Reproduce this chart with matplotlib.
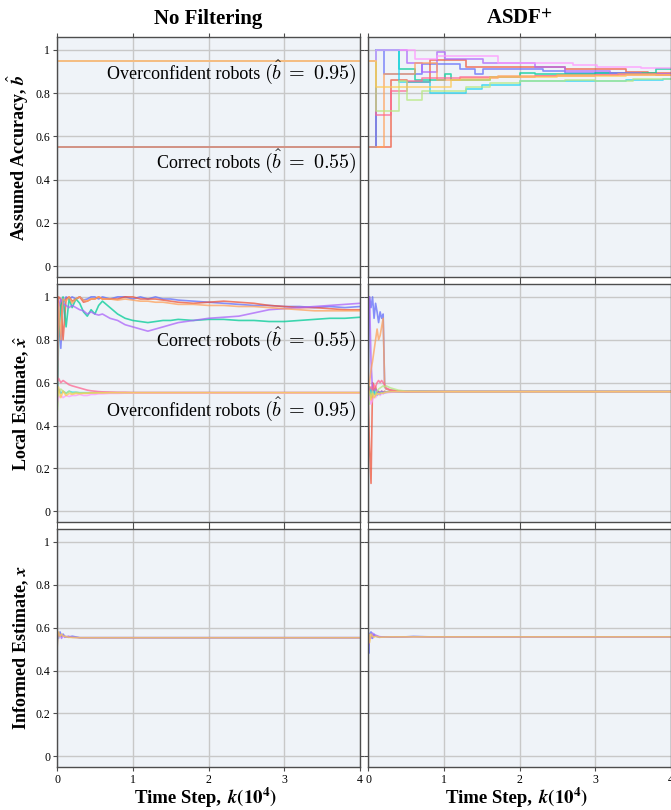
import numpy as np
import matplotlib.pyplot as plt

plt.rcParams['font.family'] = ['Liberation Serif', 'DejaVu Serif']
plt.rcParams['mathtext.fontset'] = 'cm'

colors = ['#636EFA', '#EF553B', '#00CC96', '#AB63FA', '#FFA15A',
          '#19D3F3', '#FF6692', '#B6E880', '#FF97FF', '#FECB52']

## time in units of 10^4 steps
# no filtering: assumed accuracy stays at its initial value
b_init = [0.55, 0.55, 0.55, 0.55, 0.55, 0.95, 0.95, 0.95, 0.95, 0.95]

# ASDF+: assumed accuracy, step changes (x, b_hat)
asdf_b_x = [
    [0, 0.11, 0.21, 0.71, 1.21, 1.41, 1.52, 2.31, 2.6, 3.4, 3.8],
    [0, 0.31, 0.51, 0.82, 1.30, 2.6, 3.4, 3.7],
    [0, 0.11, 0.41, 0.62, 1.02, 1.1, 1.61, 2.01, 2.2, 3.0, 3.8],
    [0, 0.11, 0.51, 0.71, 0.91, 1.02, 1.52, 2.2, 2.6, 3.2, 3.6],
    [0, 0.21, 0.62, 0.91, 1.21, 1.72, 2.5, 3.3, 3.8],
    [0, 0.11, 0.41, 0.82, 1.30, 1.5, 2.01, 3.0, 3.4, 3.9],
    [0, 0.11, 0.31, 0.51, 0.71, 1.21, 2.2, 3.0],
    [0, 0.11, 0.41, 0.51, 0.71, 1.30, 1.61, 2.0, 2.6, 3.0, 3.5],
    [0, 0.11, 0.62, 0.91, 1.72, 2.71, 3.02, 3.6],
    [0, 0.11, 1.1, 1.61, 2.5, 3.4],
]
asdf_b_y = [
    [0.55, 1.0, 0.89, 0.935, 0.91, 0.89, 0.91, 0.905, 0.895, 0.89, 0.885],
    [0.55, 0.86, 0.85, 0.955, 0.92, 0.91, 0.90, 0.895],
    [0.55, 1.0, 0.91, 0.86, 0.89, 0.86, 0.875, 0.895, 0.89, 0.895, 0.91],
    [0.55, 1.0, 0.94, 0.90, 0.99, 0.96, 0.94, 0.92, 0.905, 0.895, 0.89],
    [0.55, 0.89, 0.94, 0.86, 0.87, 0.88, 0.885, 0.89, 0.885],
    [0.95, 1.0, 0.85, 0.80, 0.82, 0.84, 0.855, 0.855, 0.86, 0.865],
    [0.95, 0.70, 0.81, 0.855, 0.87, 0.875, 0.88, 0.885],
    [0.95, 0.72, 0.855, 0.77, 0.81, 0.83, 0.845, 0.855, 0.86, 0.855, 0.865],
    [0.95, 1.0, 0.96, 0.97, 0.94, 0.93, 0.92, 0.915],
    [0.95, 0.83, 0.86, 0.875, 0.88, 0.885],
]

# no filtering: local estimate
nf_x = [0, 0.02, 0.05, 0.08, 0.12, 0.16, 0.2, 0.25, 0.3, 0.35, 0.4, 0.45, 0.5,
        0.55, 0.6, 0.7, 0.8, 0.9, 1.0, 1.1, 1.2, 1.3, 1.4, 1.5, 1.6, 1.8, 2.0,
        2.2, 2.4, 2.6, 2.8, 3.0, 3.2, 3.4, 3.6, 3.8, 4.0]
nf_est = [
    [0.5, 0.9, 0.76, 0.97, 1.0, 0.99, 1.0, 0.99, 1.0, 0.985, 0.99, 1.0, 1.0,
     0.99, 1.0, 0.99, 1.0, 1.0, 0.99, 1.0, 0.99, 1.0, 0.99, 0.99, 0.985, 0.98,
     0.975, 0.97, 0.965, 0.96, 0.96, 0.955, 0.955, 0.95, 0.955, 0.95, 0.955],
    [0.5, 1.0, 0.99, 0.8, 0.99, 1.0, 0.98, 0.99, 1.0, 0.975, 0.98, 0.99, 0.99,
     1.0, 0.99, 0.99, 0.99, 1.0, 1.0, 0.99, 0.99, 0.99, 0.985, 0.98, 0.975,
     0.97, 0.975, 0.98, 0.975, 0.97, 0.96, 0.955, 0.95, 0.95, 0.945, 0.94, 0.94],
    [0.45, 0.8, 0.96, 1.0, 0.86, 0.99, 0.95, 0.99, 0.97, 0.93, 0.91, 0.94, 0.92,
     0.96, 0.98, 0.95, 0.92, 0.9, 0.89, 0.885, 0.88, 0.885, 0.89, 0.89, 0.895,
     0.89, 0.895, 0.895, 0.89, 0.89, 0.885, 0.885, 0.89, 0.895, 0.9, 0.9, 0.905],
    [0.55, 0.95, 0.99, 0.97, 0.96, 0.95, 0.96, 0.95, 0.94, 0.935, 0.92, 0.93,
     0.92, 0.915, 0.92, 0.9, 0.89, 0.87, 0.86, 0.85, 0.84, 0.85, 0.86, 0.87,
     0.88, 0.89, 0.9, 0.905, 0.91, 0.925, 0.94, 0.945, 0.95, 0.955, 0.96, 0.965,
     0.97],
    [0.5, 0.97, 0.8, 0.99, 0.98, 1.0, 0.97, 0.99, 1.0, 0.985, 0.98, 0.99, 0.99,
     1.0, 0.99, 0.99, 0.985, 0.99, 0.985, 0.98, 0.98, 0.975, 0.975, 0.97, 0.965,
     0.965, 0.96, 0.96, 0.955, 0.955, 0.95, 0.945, 0.94, 0.935, 0.935, 0.935,
     0.935],
    [0.55, 0.57, 0.55, 0.56, 0.55, 0.56, 0.555, 0.555, 0.553, 0.553, 0.553,
     0.553, 0.553, 0.553, 0.553, 0.553, 0.553, 0.553, 0.553, 0.553, 0.553,
     0.553, 0.553, 0.553, 0.553, 0.553, 0.553, 0.553, 0.553, 0.553, 0.553,
     0.553, 0.553, 0.553, 0.553, 0.553, 0.553],
    [0.6, 0.62, 0.6, 0.61, 0.6, 0.59, 0.585, 0.58, 0.575, 0.57, 0.565, 0.562,
     0.56, 0.558, 0.557, 0.556, 0.555, 0.555, 0.554, 0.554, 0.554, 0.554,
     0.554, 0.554, 0.554, 0.554, 0.554, 0.554, 0.554, 0.554, 0.554, 0.554,
     0.554, 0.554, 0.554, 0.554, 0.554],
    [0.45, 0.55, 0.57, 0.56, 0.55, 0.56, 0.55, 0.555, 0.552, 0.552, 0.552,
     0.552, 0.552, 0.552, 0.552, 0.552, 0.552, 0.552, 0.552, 0.552, 0.552,
     0.552, 0.552, 0.552, 0.552, 0.552, 0.552, 0.552, 0.552, 0.552, 0.552,
     0.552, 0.552, 0.552, 0.552, 0.552, 0.552],
    [0.5, 0.53, 0.54, 0.53, 0.54, 0.535, 0.54, 0.54, 0.545, 0.54, 0.54, 0.545,
     0.545, 0.548, 0.548, 0.55, 0.55, 0.551, 0.551, 0.551, 0.551, 0.551,
     0.551, 0.551, 0.551, 0.551, 0.551, 0.551, 0.551, 0.551, 0.551, 0.551,
     0.551, 0.551, 0.551, 0.551, 0.551],
    [0.52, 0.58, 0.53, 0.56, 0.54, 0.55, 0.545, 0.55, 0.548, 0.55, 0.55, 0.552,
     0.552, 0.552, 0.552, 0.553, 0.553, 0.553, 0.553, 0.553, 0.553, 0.553,
     0.553, 0.553, 0.553, 0.553, 0.553, 0.553, 0.553, 0.553, 0.553, 0.553,
     0.553, 0.553, 0.553, 0.553, 0.553],
]

# ASDF+: local estimate
as_x = [0, 0.02, 0.04, 0.06, 0.08, 0.1, 0.12, 0.14, 0.16, 0.18, 0.2, 0.22,
        0.24, 0.3, 0.4, 0.5, 0.7, 1.0, 1.5, 2.0, 3.0, 4.0]
as_est = [
    [0.55, 1.0, 0.95, 1.0, 0.9, 0.97, 0.93, 0.88, 0.93, 0.9, 0.92, 0.58, 0.57,
     0.565, 0.56, 0.56, 0.56, 0.558, 0.558, 0.558, 0.558, 0.558],
    [0.55, 0.3, 0.13, 0.6, 0.56, 0.58, 0.55, 0.56, 0.55, 0.56, 0.555, 0.56,
     0.555, 0.56, 0.558, 0.558, 0.558, 0.558, 0.558, 0.558, 0.558, 0.558],
    [0.55, 0.58, 0.53, 0.57, 0.55, 0.54, 0.56, 0.55, 0.545, 0.555, 0.55, 0.553,
     0.555, 0.556, 0.558, 0.558, 0.558, 0.558, 0.558, 0.558, 0.558, 0.558],
    [1.0, 1.0, 0.7, 0.56, 0.55, 0.57, 0.56, 0.55, 0.555, 0.56, 0.555, 0.557,
     0.556, 0.558, 0.558, 0.558, 0.558, 0.558, 0.558, 0.558, 0.558, 0.558],
    [0.55, 0.6, 0.66, 0.7, 0.75, 0.8, 0.85, 0.8, 0.82, 0.86, 0.9, 0.58, 0.57,
     0.565, 0.56, 0.558, 0.558, 0.558, 0.558, 0.558, 0.558, 0.558],
    [0.55, 0.52, 0.57, 0.54, 0.56, 0.55, 0.54, 0.55, 0.55, 0.555, 0.55, 0.555,
     0.555, 0.557, 0.558, 0.558, 0.558, 0.558, 0.558, 0.558, 0.558, 0.558],
    [0.55, 0.57, 0.58, 0.56, 0.59, 0.58, 0.6, 0.61, 0.6, 0.61, 0.6, 0.59,
     0.575, 0.565, 0.56, 0.558, 0.558, 0.558, 0.558, 0.558, 0.558, 0.558],
    [0.55, 0.5, 0.54, 0.56, 0.53, 0.55, 0.56, 0.57, 0.575, 0.58, 0.585, 0.58,
     0.585, 0.575, 0.565, 0.56, 0.559, 0.558, 0.558, 0.558, 0.558, 0.558],
    [0.55, 0.53, 0.5, 0.52, 0.54, 0.53, 0.545, 0.55, 0.54, 0.55, 0.548, 0.552,
     0.553, 0.555, 0.557, 0.558, 0.558, 0.558, 0.558, 0.558, 0.558, 0.558],
    [0.55, 0.56, 0.52, 0.55, 0.53, 0.54, 0.55, 0.545, 0.55, 0.552, 0.55, 0.555,
     0.556, 0.558, 0.558, 0.558, 0.558, 0.558, 0.558, 0.558, 0.558, 0.558],
]

# informed estimate (both panels)
inf_x = [0, 0.01, 0.02, 0.04, 0.06, 0.08, 0.1, 0.15, 0.2, 0.3, 0.5, 0.6, 0.7,
         0.8, 1.0, 2.0, 3.0, 4.0]
nf_inf = [
    [0.5, 0.57, 0.55, 0.58, 0.56, 0.57, 0.56, 0.555, 0.56, 0.553, 0.553, 0.553,
     0.553, 0.553, 0.553, 0.553, 0.553, 0.553],
    [0.52, 0.58, 0.56, 0.57, 0.55, 0.565, 0.555, 0.56, 0.555, 0.553, 0.553,
     0.553, 0.553, 0.553, 0.553, 0.553, 0.553, 0.553],
    [0.49, 0.56, 0.58, 0.56, 0.57, 0.56, 0.56, 0.555, 0.554, 0.553, 0.553,
     0.553, 0.553, 0.553, 0.553, 0.553, 0.553, 0.553],
]
as_inf = [
    [0.55, 0.48, 0.57, 0.58, 0.55, 0.57, 0.56, 0.555, 0.557, 0.556, 0.557,
     0.559, 0.558, 0.557, 0.557, 0.557, 0.557, 0.557],
    [0.58, 0.52, 0.56, 0.55, 0.575, 0.56, 0.565, 0.558, 0.556, 0.557, 0.557,
     0.557, 0.557, 0.557, 0.557, 0.557, 0.557, 0.557],
    [0.5, 0.57, 0.53, 0.57, 0.56, 0.555, 0.56, 0.555, 0.556, 0.557, 0.557,
     0.557, 0.557, 0.557, 0.557, 0.557, 0.557, 0.557],
]

titles = ['No Filtering', r'ASDF$^{\mathbf{+}}$']
ylabels = [r'Assumed Accuracy, $\hat{\mathbfit{b}}$',
           r'Local Estimate, $\hat{\mathbfit{x}}$',
           r'Informed Estimate, $\mathbfit{x}$']

fig = plt.figure(figsize=(6.71, 8.10), dpi=100)
W, H = 671.0, 810.0
cols = [57, 368]
rows = [(37, 277), (284, 522), (529, 767)]
axes = []
for r, (top, bot) in enumerate(rows):
    line = []
    for c, left in enumerate(cols):
        ax = fig.add_axes([left / W, 1 - bot / H, 303 / W, (bot - top) / H])
        ax.set_facecolor('#eff3f8')
        ax.set_xlim(0, 4)
        ax.set_ylim(-0.05, 1.06)
        ax.set_xticks([0, 1, 2, 3, 4])
        ax.set_yticks([0, 0.2, 0.4, 0.6, 0.8, 1.0])
        ax.set_yticklabels(['0', '0.2', '0.4', '0.6', '0.8', '1'])
        ax.grid(True, color='#c8c8c8', lw=1.0)
        ax.set_axisbelow(True)
        for s in ax.spines.values():
            s.set_color('#4d4d4d')
            s.set_linewidth(1.0)
        ax.tick_params(direction='out', top=True, right=True, length=3,
                       width=0.8, color='#4d4d4d', labelsize=8.5, pad=2)
        if c == 1:
            ax.tick_params(labelleft=False)
        else:
            ax.set_ylabel(ylabels[r], fontsize=13, fontweight='bold',
                          math_fontfamily='stix', labelpad=3)
        if r < 2:
            ax.tick_params(labelbottom=False)
        else:
            # x label: bold words followed by a larger math part
            yb = -(803 - bot) / (bot - top)
            mt = ax.text(0.56, yb, r'$\mathbfit{k}\mathbf{(10^4)}$',
                         transform=ax.transAxes, ha='left', va='baseline',
                         fontsize=13.5, math_fontfamily='stix')
            ax.annotate('Time Step,', xy=(0, yb), xycoords=(mt, 'axes fraction'),
                        xytext=(-4, 0), textcoords='offset points',
                        ha='right', va='baseline', fontsize=13.5,
                        fontweight='bold')
        if r == 0:
            ax.set_title(titles[c], fontsize=15, fontweight='bold', pad=9.5,
                         math_fontfamily='stix')
        line.append(ax)
    axes.append(line)

lw, al = 1.2, 0.75

# row 1
for i, b in enumerate(b_init):
    axes[0][0].plot([0, 4], [b, b], color=colors[i], lw=lw, alpha=al)
for i in range(10):
    xs = asdf_b_x[i] + [4]
    ys = asdf_b_y[i] + [asdf_b_y[i][-1]]
    axes[0][1].plot(xs, ys, drawstyle='steps-post', color=colors[i], lw=lw, alpha=al)

# row 2
for i in range(10):
    axes[1][0].plot(nf_x, nf_est[i], color=colors[i], lw=lw, alpha=al)
    axes[1][1].plot(as_x, as_est[i], color=colors[i], lw=lw, alpha=al)

# row 3
for j, i in enumerate([0, 3, 9]):
    axes[2][0].plot(inf_x, nf_inf[j], color=colors[i], lw=lw, alpha=al)
    axes[2][1].plot(inf_x, as_inf[j], color=colors[i], lw=lw, alpha=al)


def label(ax, y, words, math):
    mt = ax.text(3.96, y, math, ha='right', va='baseline', fontsize=14.5,
                 math_fontfamily='cm')
    ax.annotate(words, xy=(0, y), xycoords=(mt, 'data'), xytext=(-3, 0),
                textcoords='offset points', ha='right', va='baseline',
                fontsize=13)


label(axes[0][0], 0.865, 'Overconfident robots', r'$(\hat{b}\;=\;0.95)$')
label(axes[0][0], 0.456, 'Correct robots', r'$(\hat{b}\;=\;0.55)$')
label(axes[1][0], 0.769, 'Correct robots', r'$(\hat{b}\;=\;0.55)$')
label(axes[1][0], 0.446, 'Overconfident robots', r'$(\hat{b}\;=\;0.95)$')

fig.savefig('out.png', dpi=100)
